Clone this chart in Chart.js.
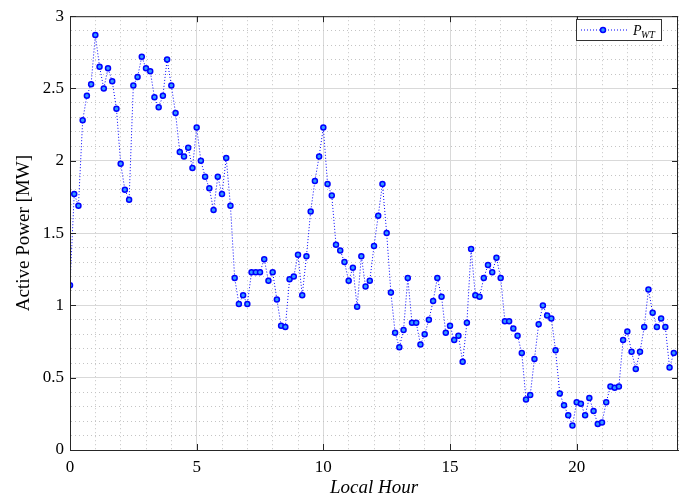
<!DOCTYPE html>
<html>
<head>
<meta charset="utf-8">
<script src="https://cdn.jsdelivr.net/npm/chart.js@4.4.1/dist/chart.umd.min.js"></script>
<style>
  body { margin: 0; background: #fff; }
  #wrap { width: 688px; height: 500px; }
</style>
</head>
<body>
<div id="wrap"><canvas id="powerChart" width="688" height="500"></canvas></div>
<script>
// wind turbine output, one sample every 10 minutes
const samplesPerHour = 6;
const power = [
  1.14, 1.77, 1.69, 2.28, 2.45, 2.53, 2.87, 2.65, 2.50, 2.64, 2.55, 2.36,
  1.98, 1.80, 1.73, 2.52, 2.58, 2.72, 2.64, 2.62, 2.44, 2.37, 2.45, 2.70,
  2.52, 2.33, 2.06, 2.03, 2.09, 1.95, 2.23, 2.00, 1.89, 1.81, 1.66, 1.89,
  1.77, 2.02, 1.69, 1.19, 1.01, 1.07, 1.01, 1.23, 1.23, 1.23, 1.32, 1.17,
  1.23, 1.04, 0.86, 0.85, 1.18, 1.20, 1.35, 1.07, 1.34, 1.65, 1.86, 2.03,
  2.23, 1.84, 1.76, 1.42, 1.38, 1.30, 1.17, 1.26, 0.99, 1.34, 1.13, 1.17,
  1.41, 1.62, 1.84, 1.50, 1.09, 0.81, 0.71, 0.83, 1.19, 0.88, 0.88, 0.73,
  0.80, 0.90, 1.03, 1.19, 1.06, 0.81, 0.86, 0.76, 0.79, 0.61, 0.88, 1.39,
  1.07, 1.06, 1.19, 1.28, 1.23, 1.33, 1.19, 0.89, 0.89, 0.84, 0.79, 0.67,
  0.35, 0.38, 0.63, 0.87, 1.00, 0.93, 0.91, 0.69, 0.39, 0.31, 0.24, 0.17,
  0.33, 0.32, 0.24, 0.36, 0.27, 0.18, 0.19, 0.33, 0.44, 0.43, 0.44, 0.76,
  0.82, 0.68, 0.56, 0.68, 0.85, 1.11, 0.95, 0.85, 0.91, 0.85, 0.57, 0.67
];
const xMajorTicks = [0, 5, 10, 15, 20];
const yMajorTicks = [0, 0.5, 1, 1.5, 2, 2.5, 3];

const points = power.map((p, i) => ({ x: i / samplesPerHour, y: p }));

const serif = "'Liberation Serif', 'DejaVu Serif', serif";
const axisColor = "#262626";

function isMajor(value, list) {
  return list.some((m) => Math.abs(m - value) < 1e-6);
}

// box round the plot, inward tick marks, legend with subscript
const decorations = {
  id: "decorations",
  afterDraw(chart) {
    const { ctx, chartArea: a, scales } = chart;
    ctx.save();
    ctx.strokeStyle = axisColor;
    ctx.lineWidth = 1;
    ctx.strokeRect(a.left + 0.5, a.top + 0.5, a.right - a.left - 1, a.bottom - a.top);

    ctx.beginPath();
    xMajorTicks.forEach((v) => {
      const px = Math.round(scales.x.getPixelForValue(v)) + 0.5;
      ctx.moveTo(px, a.bottom);
      ctx.lineTo(px, a.bottom - 6);
      ctx.moveTo(px, a.top);
      ctx.lineTo(px, a.top + 6);
    });
    yMajorTicks.forEach((v) => {
      const py = Math.round(scales.y.getPixelForValue(v)) + 0.5;
      ctx.moveTo(a.left, py);
      ctx.lineTo(a.left + 6, py);
      ctx.moveTo(a.right, py);
      ctx.lineTo(a.right - 6, py);
    });
    ctx.stroke();

    // legend
    const lx = 576, ly = 19, lw = 85, lh = 21;
    ctx.fillStyle = "#fff";
    ctx.fillRect(lx, ly, lw, lh);
    ctx.strokeStyle = "#333";
    ctx.strokeRect(lx + 0.5, ly + 0.5, lw, lh);
    ctx.strokeStyle = "#0000ff";
    ctx.setLineDash([1, 2]);
    ctx.beginPath();
    ctx.moveTo(lx + 5, ly + 11);
    ctx.lineTo(lx + 52, ly + 11);
    ctx.stroke();
    ctx.setLineDash([]);
    ctx.beginPath();
    ctx.arc(lx + 27, ly + 11, 2.5, 0, Math.PI * 2);
    ctx.fillStyle = "#3399ff";
    ctx.fill();
    ctx.lineWidth = 1.5;
    ctx.stroke();
    ctx.fillStyle = "#000";
    ctx.textBaseline = "alphabetic";
    ctx.font = "italic 14px " + serif;
    ctx.fillText("P", lx + 57, ly + 16);
    ctx.font = "italic 10px " + serif;
    ctx.fillText("WT", lx + 65, ly + 19);
    ctx.restore();
  },
};

const ctx = document.getElementById("powerChart").getContext("2d");
new Chart(ctx, {
  type: "line",
  data: {
    datasets: [
      {
        label: "P_WT",
        data: points,
        borderColor: "#0000ff",
        borderWidth: 1,
        borderDash: [1, 2],
        tension: 0,
        fill: false,
        pointRadius: 2.5,
        pointBorderWidth: 1.5,
        pointBorderColor: "#0000ff",
        pointBackgroundColor: "#3399ff",
      },
    ],
  },
  options: {
    responsive: false,
    animation: false,
    layout: { padding: { left: 0, right: 10, top: 13, bottom: 0 } },
    plugins: {
      legend: { display: false },
      tooltip: { enabled: false },
    },
    scales: {
      x: {
        type: "linear",
        min: 0,
        max: 24,
        afterFit: (scale) => { scale.height = 50; },
        ticks: {
          stepSize: 1,
          autoSkip: false,
          maxRotation: 0,
          padding: 7,
          color: "#000",
          font: { family: serif, size: 17 },
          callback: (v) => (isMajor(v, xMajorTicks) ? String(v) : ""),
        },
        grid: {
          drawTicks: false,
          color: (c) => (c.tick && isMajor(c.tick.value, xMajorTicks) ? "#d9d9d9" : "#c4c4c4"),
          lineWidth: 1,
        },
        border: {
          color: axisColor,
          width: 1,
          dash: (c) => (c.tick && !isMajor(c.tick.value, xMajorTicks) ? [1, 3] : []),
        },
        title: {
          display: true,
          text: "Local Hour",
          color: "#000",
          font: { family: serif, size: 19, style: "italic", lineHeight: 1 },
          padding: { top: 0, bottom: 3 },
        },
      },
      y: {
        min: 0,
        max: 3,
        afterFit: (scale) => { scale.width = 70; },
        ticks: {
          stepSize: 0.1,
          autoSkip: false,
          padding: 6,
          color: "#000",
          font: { family: serif, size: 17 },
          callback: (v) => (isMajor(v, yMajorTicks) ? String(Math.round(v * 10) / 10) : ""),
        },
        grid: {
          drawTicks: false,
          color: (c) => (c.tick && isMajor(c.tick.value, yMajorTicks) ? "#d9d9d9" : "#c4c4c4"),
          lineWidth: 1,
        },
        border: {
          color: axisColor,
          width: 1,
          dash: (c) => (c.tick && !isMajor(c.tick.value, yMajorTicks) ? [1, 3] : []),
        },
        title: {
          display: true,
          text: "Active Power [MW]",
          color: "#000",
          font: { family: serif, size: 19, lineHeight: 1 },
          padding: { top: 15, bottom: 0 },
        },
      },
    },
  },
  plugins: [decorations],
});
</script>
</body>
</html>
